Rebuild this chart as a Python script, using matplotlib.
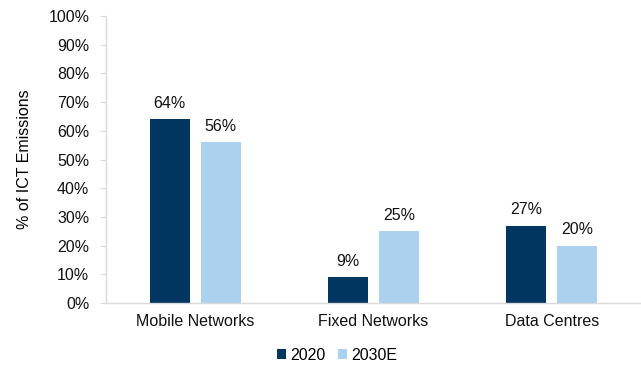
import matplotlib
matplotlib.use("Agg")
import matplotlib.pyplot as plt
import numpy as np
from matplotlib.ticker import FuncFormatter

categories = ["Mobile Networks", "Fixed Networks", "Data Centres"]
series_names = ["2020", "2030E"]
values_2020 = [64, 9, 27]
values_2030 = [56, 25, 20]
colors = ["#003660", "#abd1ef"]

plt.rcParams["font.family"] = ["Liberation Sans", "DejaVu Sans"]
plt.rcParams["font.size"] = 11.5

fig = plt.figure(figsize=(6.41, 3.66), dpi=100)
ax = fig.add_axes([106 / 641, 1 - 303 / 366, 535 / 641, 287 / 366])

x = np.arange(len(categories))
width = 0.224
offset = 0.143
b1 = ax.bar(x - offset, values_2020, width, color=colors[0], label=series_names[0])
b2 = ax.bar(x + offset, values_2030, width, color=colors[1], label=series_names[1])

for bars in (b1, b2):
    for rect in bars:
        h = rect.get_height()
        ax.annotate(f"{h:.0f}%", (rect.get_x() + rect.get_width() / 2, h),
                    xytext=(0, 6), textcoords="offset points",
                    ha="center", va="bottom", fontsize=11.5, color="#111111")

ax.set_xlim(-0.5, 2.5)
ax.set_ylim(0, 100)
ax.set_yticks(np.arange(0, 101, 10))
ax.yaxis.set_major_formatter(FuncFormatter(lambda v, p: f"{v:.0f}%"))
ax.set_xticks(x)
ax.set_xticklabels(categories)
ax.set_ylabel("% of ICT Emissions", labelpad=12)

for side in ("top", "right"):
    ax.spines[side].set_visible(False)
for side in ("left", "bottom"):
    ax.spines[side].set_color("#d9d9d9")
    ax.spines[side].set_linewidth(1)
ax.tick_params(axis="y", length=4, color="#d9d9d9", pad=8, labelcolor="#111111")
ax.tick_params(axis="x", length=0, pad=8, labelcolor="#111111")

fig.legend(handles=[b1, b2], labels=series_names, loc="center",
           bbox_to_anchor=(337 / 641, 1 - 355 / 366), ncol=2, frameon=False,
           handlelength=0.55, handleheight=0.55, handletextpad=0.25,
           columnspacing=0.8, fontsize=11.5)

fig.savefig("out.png", dpi=100)
